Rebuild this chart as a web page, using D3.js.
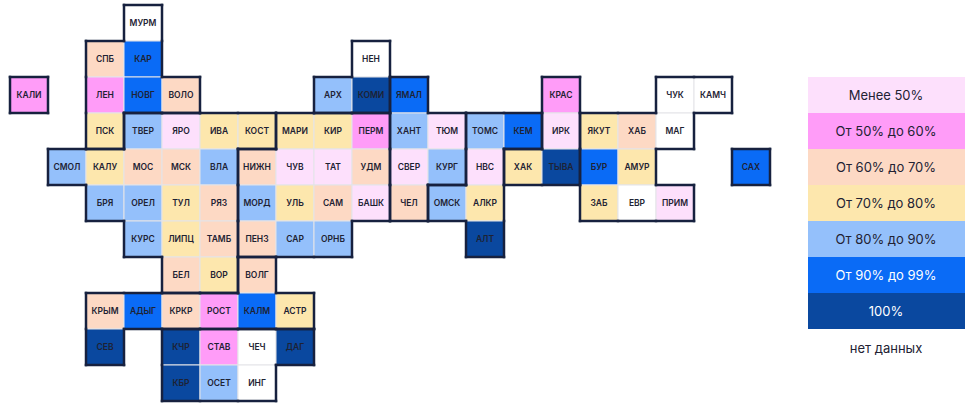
<!DOCTYPE html>
<html>
<head>
<meta charset="utf-8">
<script src="https://cdn.jsdelivr.net/npm/d3@7"></script>
<style>
	body { margin: 0; background: #fff; }
	text { font-family: Inter, "Noto Sans", sans-serif; }
</style>
</head>
<body>
<svg id="chart" width="975" height="408"></svg>
<script>
'use strict';

// regions: label, column, row, level (0..6, -1 = no data), outline group
var regions		= ['МУРМ','СПБ','КАР','НЕН','КАЛИ','ЛЕН','НОВГ','ВОЛО','АРХ','КОМИ','ЯМАЛ','КРАС','ЧУК','КАМЧ',
	'ПСК','ТВЕР','ЯРО','ИВА','КОСТ','МАРИ','КИР','ПЕРМ','ХАНТ','ТЮМ','ТОМС','КЕМ','ИРК','ЯКУТ','ХАБ','МАГ',
	'СМОЛ','КАЛУ','МОС','МСК','ВЛА','НИЖН','ЧУВ','ТАТ','УДМ','СВЕР','КУРГ','НВС','ХАК','ТЫВА','БУР','АМУР','САХ',
	'БРЯ','ОРЕЛ','ТУЛ','РЯЗ','МОРД','УЛЬ','САМ','БАШК','ЧЕЛ','ОМСК','АЛКР','ЗАБ','ЕВР','ПРИМ',
	'КУРС','ЛИПЦ','ТАМБ','ПЕНЗ','САР','ОРНБ','АЛТ',
	'БЕЛ','ВОР','ВОЛГ',
	'КРЫМ','АДЫГ','КРКР','РОСТ','КАЛМ','АСТР',
	'СЕВ','КЧР','СТАВ','ЧЕЧ','ДАГ',
	'КБР','ОСЕТ','ИНГ'];
var cols		= [3,2,3,9,0,2,3,4,8,9,10,14,17,18,
	2,3,4,5,6,7,8,9,10,11,12,13,14,15,16,17,
	1,2,3,4,5,6,7,8,9,10,11,12,13,14,15,16,19,
	2,3,4,5,6,7,8,9,10,11,12,15,16,17,
	3,4,5,6,7,8,12,
	4,5,6,
	2,3,4,5,6,7,
	2,4,5,6,7,
	4,5,6];
var rows		= [0,1,1,1,2,2,2,2,2,2,2,2,2,2,
	3,3,3,3,3,3,3,3,3,3,3,3,3,3,3,3,
	4,4,4,4,4,4,4,4,4,4,4,4,4,4,4,4,4,
	5,5,5,5,5,5,5,5,5,5,5,5,5,5,
	6,6,6,6,6,6,6,
	7,7,7,
	8,8,8,8,8,8,
	9,9,9,9,9,
	10,10,10];
var levels		= [-1,2,5,-1,1,1,5,2,4,6,5,1,-1,-1,
	3,4,0,3,3,3,3,1,4,0,4,5,0,3,2,-1,
	4,3,2,2,4,2,0,0,2,0,4,0,3,6,5,3,5,
	4,4,3,2,4,3,2,0,2,4,3,3,-1,0,
	4,3,2,2,4,4,6,
	2,3,2,
	2,5,2,1,5,3,
	6,6,1,-1,6,
	6,4,-1];
var districts	= ['NW','NW','NW','NW','NWK','NW','NW','NW','NW','NW','UR','SIB2','FE','FE',
	'NW','C','C','C','C','V','V','V','UR','UR','SIB','SIB','SIB2','FE','FE','FE',
	'C','C','C','C','C','V','V','V','V','UR','UR','SIB','SIB2','SIB2','FE','FE','FES',
	'C','C','C','C','V','V','V','V','UR','SIB','SIB','FE','FE','FE',
	'C','C','C','V','V','V','SIB',
	'C','C','S',
	'S','S','S','S','S','S',
	'S','NC','NC','NC','NC',
	'NC','NC','NC'];

// legend
var legendLabels	= ['Менее 50%','От 50% до 60%','От 60% до 70%','От 70% до 80%','От 80% до 90%','От 90% до 99%','100%'];
var palette			= ['#fde0fc','#ff9cf8','#fdd9c4','#fde7ad','#94c0fb','#0a6bf6','#0a489f'];

var svg = d3.select('#chart');

var x = d3.scaleBand().domain(d3.range(20)).range([10, 770]).padding(0);
var y = d3.scaleBand().domain(d3.range(11)).range([5, 401]).padding(0);
var fill = function(l){ return l < 0 ? '#ffffff' : palette[l]; };

var cells = regions.map(function(n, i){
	return { name: n, c: cols[i], r: rows[i], l: levels[i], d: districts[i] };
});
var lookup = {};
cells.forEach(function(d){ lookup[d.c + ',' + d.r] = d; });

// tiles
var g = svg.append('g');
g.selectAll('rect')
	.data(cells)
	.enter()
	.append('rect')
	.attr('x', function(d){ return x(d.c); })
	.attr('y', function(d){ return y(d.r); })
	.attr('width', x.bandwidth())
	.attr('height', y.bandwidth())
	.attr('fill', function(d){ return fill(d.l); })
	.attr('stroke', '#e4e4e8')
	.attr('stroke-width', 1);

g.selectAll('text')
	.data(cells)
	.enter()
	.append('text')
	.attr('x', function(d){ return x(d.c) + x.bandwidth() / 2; })
	.attr('y', function(d){ return y(d.r) + y.bandwidth() / 2; })
	.attr('dy', '0.35em')
	.attr('text-anchor', 'middle')
	.attr('font-size', 8.5)
	.attr('font-weight', 600)
	.attr('fill', '#1e2233')
	.text(function(d){ return d.name; });

// group outlines
var segs = [];
cells.forEach(function(d){
	var x0 = x(d.c), x1 = x0 + x.bandwidth(), y0 = y(d.r), y1 = y0 + y.bandwidth();
	var nb = [
		[d.c, d.r - 1, x0, y0, x1, y0],
		[d.c, d.r + 1, x0, y1, x1, y1],
		[d.c - 1, d.r, x0, y0, x0, y1],
		[d.c + 1, d.r, x1, y0, x1, y1]
	];
	nb.forEach(function(n){
		var o = lookup[n[0] + ',' + n[1]];
		if (!o || o.d !== d.d){
			segs.push(n.slice(2));
		}
	});
});
svg.append('g')
	.selectAll('line')
	.data(segs)
	.enter()
	.append('line')
	.attr('x1', function(s){ return s[0]; })
	.attr('y1', function(s){ return s[1]; })
	.attr('x2', function(s){ return s[2]; })
	.attr('y2', function(s){ return s[3]; })
	.attr('stroke', '#17213f')
	.attr('stroke-width', 2.5)
	.attr('stroke-linecap', 'square');

// legend boxes
var ly = d3.scaleBand().domain(d3.range(legendLabels.length)).range([77, 329]);
var lg = svg.append('g');
lg.selectAll('rect')
	.data(legendLabels)
	.enter()
	.append('rect')
	.attr('x', 808)
	.attr('y', function(d, i){ return ly(i); })
	.attr('width', 157)
	.attr('height', ly.bandwidth())
	.attr('fill', function(d, i){ return palette[i]; });
lg.selectAll('text')
	.data(legendLabels)
	.enter()
	.append('text')
	.attr('x', 886)
	.attr('y', function(d, i){ return ly(i) + ly.bandwidth() / 2; })
	.attr('dy', '0.35em')
	.attr('text-anchor', 'middle')
	.attr('font-size', 13)
	.attr('fill', function(d, i){ return i >= 5 ? '#ffffff' : '#222233'; })
	.text(function(d){ return d; });
lg.append('text')
	.attr('x', 886)
	.attr('y', 348)
	.attr('dy', '0.35em')
	.attr('text-anchor', 'middle')
	.attr('font-size', 13)
	.attr('fill', '#222233')
	.text('нет данных');
</script>
</body>
</html>
